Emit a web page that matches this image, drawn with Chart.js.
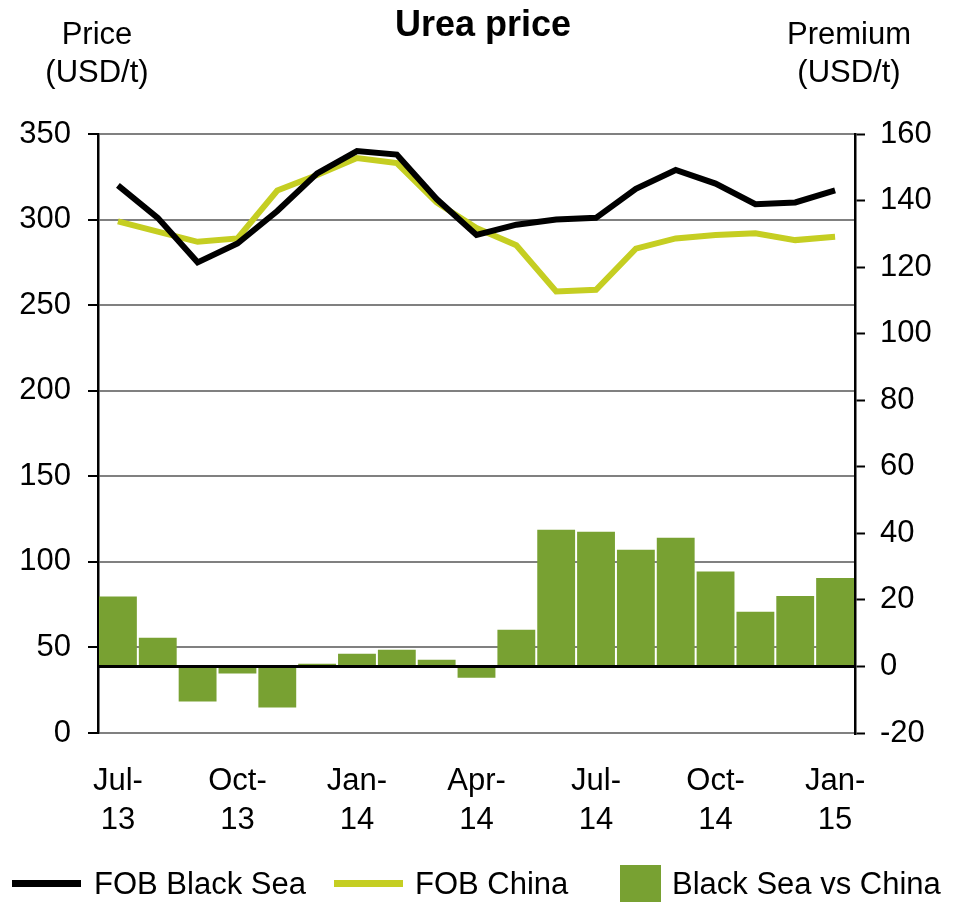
<!DOCTYPE html>
<html>
<head>
<meta charset="utf-8">
<title>Urea price</title>
<script src="https://cdn.jsdelivr.net/npm/chart.js@4.4.1/dist/chart.umd.min.js"></script>
<style>
  html, body { margin: 0; padding: 0; background: #fff; }
  #wrap { position: relative; width: 969px; height: 903px; font-family: "Liberation Sans", Arial, sans-serif; color: #000; }
  #wrap canvas { position: absolute; left: 0; top: 0; }
  .txt { position: absolute; text-align: center; font-size: 31px; line-height: 38px; white-space: nowrap; }
  #title { left: 283px; width: 400px; top: 4px; font-size: 36px; line-height: 40px; font-weight: bold; }
  #yTitle { left: 17px; width: 160px; top: 15px; }
  #y1Title { left: 769px; width: 160px; top: 15px; }
  .leg { position: absolute; top: 864px; height: 40px; font-size: 31px; line-height: 40px; white-space: nowrap; }
  .leg .line { position: absolute; left: 0; top: 16px; width: 69px; height: 7px; }
  .leg .box { position: absolute; left: 0; top: 1px; width: 41px; height: 37px; }
  .leg span { position: absolute; top: 0; }
</style>
</head>
<body>
<div id="wrap">
  <canvas id="grafico" width="969" height="903"></canvas>
  <div class="txt" id="title">Urea price</div>
  <div class="txt" id="yTitle">Price<br>(USD/t)</div>
  <div class="txt" id="y1Title">Premium<br>(USD/t)</div>
  <div id="legenda"></div>
</div>
<script>
// Meses (Jul-13 a Jan-15)
const meses = ["Jul-13", "Aug-13", "Sep-13", "Oct-13", "Nov-13", "Dec-13",
    "Jan-14", "Feb-14", "Mar-14", "Apr-14", "May-14", "Jun-14",
    "Jul-14", "Aug-14", "Sep-14", "Oct-14", "Nov-14", "Dec-14", "Jan-15"];

// Preço FOB (USD/t) - eixo esquerdo
const fobBlackSea = [320, 301, 275, 286, 305, 327, 340, 338, 312, 291,
    297, 300, 301, 318, 329, 321, 309, 310, 317];
const fobChina = [299, 293, 287, 289, 317, 326, 336, 333, 310, 295,
    285, 258, 259, 283, 289, 291, 292, 288, 290];

// Prêmio Black Sea vs China (USD/t) - eixo direito
const premio = [21, 8.6, -10.5, -2.1, -12.3, 0.8, 3.8, 5.0, 2.0, -3.4,
    11.0, 41.1, 40.5, 35.1, 38.7, 28.5, 16.4, 21.2, 26.6];

// Escalas
const precoTicks = [0, 50, 100, 150, 200, 250, 300, 350];
const premioTicks = [-20, 0, 20, 40, 60, 80, 100, 120, 140, 160];

const fonte = { family: "'Liberation Sans', Arial, sans-serif", size: 31 };

const ctx = document.getElementById("grafico").getContext("2d");

const grafico = new Chart(ctx, {
    type: "bar",
    data: {
        labels: meses,
        datasets: [
            {
                type: "line",
                label: "FOB Black Sea",
                data: fobBlackSea,
                borderColor: "#000000",
                backgroundColor: "#000000",
                borderWidth: 6,
                pointRadius: 0,
                tension: 0,
                yAxisID: "y",
                order: 0
            },
            {
                type: "line",
                label: "FOB China",
                data: fobChina,
                borderColor: "#C5CE22",
                backgroundColor: "#C5CE22",
                borderWidth: 6,
                pointRadius: 0,
                tension: 0,
                yAxisID: "y",
                order: 0
            },
            {
                label: "Black Sea vs China",
                data: premio,
                backgroundColor: "#78A132",
                barPercentage: 0.95,
                categoryPercentage: 1.0,
                yAxisID: "y1",
                order: 1
            }
        ]
    },
    options: {
        responsive: false,
        animation: false,
        layout: { padding: { top: 134, left: 0, right: 0, bottom: 50 } },
        plugins: {
            legend: { display: false },
            tooltip: { enabled: false },
            title: { display: false }
        },
        scales: {
            x: {
                offset: true,
                grid: { display: false, drawTicks: false },
                border: { display: false },
                ticks: {
                    autoSkip: false,
                    maxRotation: 0,
                    minRotation: 0,
                    padding: 29,
                    color: "#000",
                    font: { ...fonte, lineHeight: 1.26 },
                    callback: (valor, i) => {
                        if (i % 3 !== 0) return "";
                        const partes = meses[i].split("-");
                        return [partes[0] + "-", partes[1]];
                    }
                },
                afterFit: (escala) => { escala.height = 120; }
            },
            y: {
                position: "left",
                min: precoTicks[0],
                max: precoTicks[precoTicks.length - 1],
                afterBuildTicks: (escala) => { escala.ticks = precoTicks.map(v => ({ value: v })); },
                ticks: { color: "#000", font: fonte, padding: 17 },
                grid: { color: "#808080", lineWidth: 2, tickColor: "#000", tickLength: 10, tickWidth: 2 },
                border: { color: "#000", width: 2.5 },
                afterFit: (escala) => { escala.width = 98; }
            },
            y1: {
                position: "right",
                z: 1,
                min: premioTicks[0],
                max: premioTicks[premioTicks.length - 1],
                afterBuildTicks: (escala) => { escala.ticks = premioTicks.map(v => ({ value: v })); },
                ticks: { color: "#000", font: fonte, padding: 15 },
                grid: {
                    drawOnChartArea: true,
                    color: (c) => (c.tick && c.tick.value === 0 ? "#000" : "rgba(0,0,0,0)"),
                    lineWidth: 3,
                    tickColor: "#000",
                    tickLength: 10,
                    tickWidth: 2
                },
                border: { color: "#000", width: 2.5 },
                afterFit: (escala) => { escala.width = 114; }
            }
        }
    }
});

// Legenda em HTML, montada a partir dos datasets
const posicoesLegenda = [
    { left: 12, texto: 82 },
    { left: 334, texto: 81 },
    { left: 620, texto: 52 }
];
const legenda = document.getElementById("legenda");
grafico.data.datasets.forEach((ds, i) => {
    const p = posicoesLegenda[i];
    const item = document.createElement("div");
    item.className = "leg";
    item.style.left = p.left + "px";
    const marca = ds.type === "line"
        ? `<div class="line" style="background:${ds.borderColor}"></div>`
        : `<div class="box" style="background:${ds.backgroundColor}"></div>`;
    item.innerHTML = `${marca}<span style="left:${p.texto}px">${ds.label}</span>`;
    legenda.appendChild(item);
});
</script>
</body>
</html>
